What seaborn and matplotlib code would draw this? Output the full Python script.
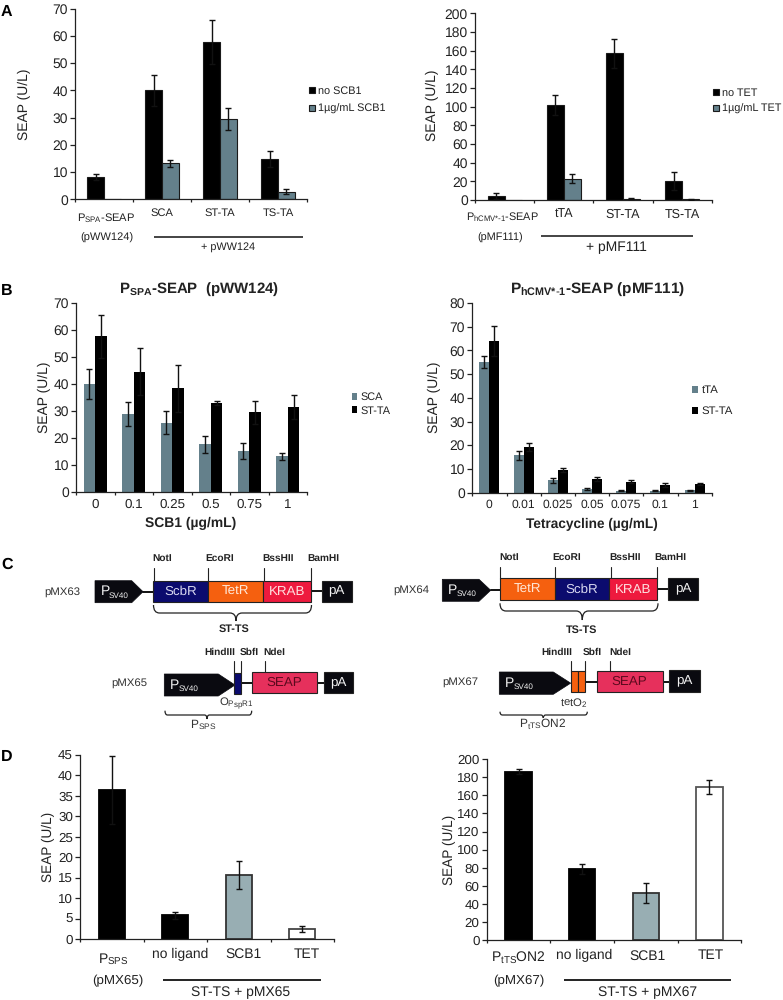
#!/usr/bin/env python
"""SEAP expression panels (A, B, D) and construct maps (C)."""
import numpy as np
import pandas as pd
import matplotlib
matplotlib.use("Agg")
import matplotlib.pyplot as plt
from matplotlib.patches import PathPatch, Polygon, Rectangle
from matplotlib.path import Path
from matplotlib.transforms import ScaledTranslation
import seaborn as sns

# Panel A, left
a1_groups = ["PSPA", "SCA", "ST-TA", "TS-TA"]
a1_no_scb1 = [8.2, 40, 57.7, 14.8]
a1_no_scb1_err = [1.1, 5.7, 8.0, 3.0]
a1_scb1 = [0, 13.2, 29.5, 2.7]
a1_scb1_err = [0, 1.2, 4.2, 0.9]

# Panel A, right
a2_groups = ["PhCMV", "tTA", "ST-TA", "TS-TA"]
a2_no_tet = [4, 102, 157, 20.5]
a2_no_tet_err = [3, 11, 16, 9.5]
a2_tet = [0, 23, 1.5, 1]
a2_tet_err = [0, 4.5, 0.5, 0.5]

# Panel B, left
b1_doses = ["0", "0.1", "0.25", "0.5", "0.75", "1"]
b1_sca = [40, 29, 25.7, 17.7, 15.2, 13.2]
b1_sca_err = [5.7, 4.4, 4.2, 3.1, 2.9, 1.2]
b1_st = [57.7, 44.6, 38.4, 33, 29.5, 31.5]
b1_st_err = [8, 8.8, 8.8, 0.6, 4.2, 4.5]

# Panel B, right
b2_doses = ["0", "0.01", "0.025", "0.05", "0.075", "0.1", "1"]
b2_tta = [55, 15.7, 5.3, 1.5, 0.9, 0.8, 1]
b2_tta_err = [2.5, 1.8, 1.1, 0.4, 0.3, 0.2, 0.3]
b2_st = [64, 19.2, 9.5, 5.8, 4.7, 3.2, 3.6]
b2_st_err = [6.5, 1.8, 0.8, 0.8, 0.8, 0.8, 0.3]

# Panel D
d_conditions = ["promoter", "no ligand", "SCB1", "TET"]
d1_values = [36.5, 5.8, 15.6, 2.4]
d1_err = [8.3, 0.9, 3.4, 0.7]
d2_values = [186, 79, 52, 169]
d2_err = [3, 5.5, 11, 7.5]

BLACK = "#000000"
SLATE = "#64808b"
PALE = "#98aeb3"
NAVY = "#0b0b6e"
ORANGE = "#f5600f"
CRIMSON = "#ee1a3e"
ROSE = "#e6305c"
INK = "#0a0a10"
TEXT = "#222222"

sns.set_theme(style="ticks")
plt.rcParams["font.family"] = ["Liberation Sans", "DejaVu Sans"]
plt.rcParams["mathtext.default"] = "regular"
plt.rcParams["text.hinting"] = "none"
plt.rcParams["text.color"] = TEXT
plt.rcParams["axes.labelcolor"] = TEXT
plt.rcParams["xtick.color"] = TEXT
plt.rcParams["ytick.color"] = TEXT
plt.rcParams["axes.edgecolor"] = "#222222"

W, H = 783, 1000
fig = plt.figure(figsize=(W / 100, H / 100), dpi=100)

# overlay in pixel coordinates for annotations and the construct maps
over = fig.add_axes([0, 0, 1, 1], zorder=5)
over.set_xlim(0, W)
over.set_ylim(H, 0)
over.axis("off")


def make_axes(left, right, y0, ytop, ymax, yticks, ysize=10):
    ax = fig.add_axes([left / W, 1 - y0 / H, (right - left) / W, (y0 - ytop) / H])
    ax.set_ylim(0, ymax)
    ax.set_yticks(yticks)
    ax.tick_params(axis="y", length=3.6, width=0.9, pad=1.5, labelsize=ysize)
    sns.despine(ax=ax)
    for side in ("left", "bottom"):
        ax.spines[side].set_linewidth(0.9)
    return ax


def finish_x(ax, n, labels, size, pad, shift=0):
    ax.set_xlim(-0.5, n - 0.5)
    ax.set_xticks(np.arange(n + 1) - 0.5)
    ax.set_xticklabels([])
    ax.tick_params(axis="x", which="major", length=2.4, width=0.9)
    ax.set_xticks(np.arange(n), labels, minor=True)
    ax.tick_params(axis="x", which="minor", length=0, pad=pad, labelsize=size)
    ax.set_xlabel("")
    if shift:
        # labels sit a little right of the bar centres in the original
        offset = ScaledTranslation(shift / 100, 0, fig.dpi_scale_trans)
        for lbl in ax.get_xticklabels(minor=True):
            lbl.set_transform(lbl.get_transform() + offset)


def add_errors(ax, container, err):
    xs = [b.get_x() + b.get_width() / 2 for b in container]
    ys = [b.get_height() for b in container]
    xs, ys, err = zip(*[(x, y, e) for x, y, e in zip(xs, ys, err) if e > 0])
    ax.errorbar(xs, ys, yerr=err, fmt="none", ecolor="#111111",
                elinewidth=1.0, capsize=1.9, capthick=1.0, zorder=4)


def grouped(ax, groups, names, values, errs, colors, width, edge, anchor, size, spacing):
    df = pd.DataFrame({
        "group": list(groups) * 2,
        "seap": list(values[0]) + list(values[1]),
        "series": [names[0]] * len(groups) + [names[1]] * len(groups),
    })
    sns.barplot(data=df, x="group", y="seap", hue="series", palette=colors,
                width=width, gap=0, errorbar=None, edgecolor=edge, linewidth=0.8,
                saturation=1, ax=ax)
    for container, err in zip(ax.containers, errs):
        add_errors(ax, container, err)
    ax.set_ylabel("")
    sns.move_legend(ax, "center left", bbox_to_anchor=(anchor[0] / W, 1 - anchor[1] / H),
                    bbox_transform=fig.transFigure, frameon=False, title=None,
                    fontsize=size, handlelength=0.55, handleheight=0.55,
                    handletextpad=0.3, labelspacing=spacing, borderpad=0, borderaxespad=0)


def single(ax, values, errs, colors, edges):
    df = pd.DataFrame({"cond": d_conditions, "seap": values})
    sns.barplot(data=df, x="cond", y="seap", hue="cond", palette=colors, legend=False,
                width=0.41, errorbar=None, saturation=1, ax=ax)
    for container, edge in zip(ax.containers, edges):
        for bar in container:
            bar.set_edgecolor(edge)
            bar.set_linewidth(1.3)
    for container, err in zip(ax.containers, errs):
        add_errors(ax, container, [err])
    ax.set_ylabel("")


def note(x, y, s, size=8, weight="normal", color=TEXT, rotation=0, ha="center"):
    over.text(x, y, s, fontsize=size, fontweight=weight, color=color, rotation=rotation,
              ha=ha, va="center")


def rule(x0, x1, y, lw=1.1, color="#111111"):
    over.plot([x0, x1], [y, y], color=color, lw=lw, solid_capstyle="butt")


# Panel A
ax = make_axes(75, 307, 199.3, 8.7, 70, range(0, 71, 10))
grouped(ax, a1_groups, ["no SCB1", "1µg/mL SCB1"], [a1_no_scb1, a1_scb1],
        [a1_no_scb1_err, a1_scb1_err], [BLACK, SLATE], 0.586, "#1a1a1a", (309, 100), 7.8, 0.75)
finish_x(ax, 4, ["", "SCA", "ST-TA", "TS-TA"], 8, 6.5)
note(24, 104, "SEAP (U/L)", 10, rotation=90)
note(106.5, 218, r"P$_{SPA}$-SEAP", 8)
note(106.5, 238, "(pWW124)", 8)
rule(154, 303, 236.7)
note(228, 247, "+ pWW124", 7.8)

ax = make_axes(475, 711.7, 200, 13.3, 200, range(0, 201, 20))
grouped(ax, a2_groups, ["no TET", "1µg/mL TET"], [a2_no_tet, a2_tet],
        [a2_no_tet_err, a2_tet_err], [BLACK, SLATE], 0.574, "#1a1a1a", (713, 101), 7.8, 0.55)
finish_x(ax, 4, ["", "tTA", "ST-TA", "TS-TA"], 9, 6)
note(432, 105, "SEAP (U/L)", 10, rotation=90)
note(502, 217, r"P$_{hCMV{*}\text{-}1}$-SEAP", 7.8)
note(500, 238, "(pMF111)", 7.8)
rule(541, 693, 236)
note(616, 247, "+ pMF111", 10)

# Panel B
ax = make_axes(76, 307, 492, 303, 70, range(0, 71, 10))
grouped(ax, b1_doses, ["SCA", "ST-TA"], [b1_sca, b1_st], [b1_sca_err, b1_st_err],
        [SLATE, BLACK], 0.6, "none", (351.5, 404), 7.8, 0.3)
finish_x(ax, 6, b1_doses, 9.6, 5)
note(191, 523, "SCB1 (µg/mL)", 10, "bold")
note(44, 397, "SEAP (U/L)", 10, rotation=90)
note(199.5, 289, r"P$_{SPA}$-SEAP  (pWW124)", 10.8, "bold")

ax = make_axes(472.3, 711.7, 492.7, 303, 80, range(0, 81, 10))
grouped(ax, b2_doses, ["tTA", "ST-TA"], [b2_tta, b2_st], [b2_tta_err, b2_st_err],
        [SLATE, BLACK], 0.585, "none", (692, 401), 8.2, 0.95)
finish_x(ax, 7, b2_doses, 8.7, 5)
note(592, 524, "Tetracycline (µg/mL)", 9.8, "bold")
note(434, 397, "SEAP (U/L)", 10, rotation=90)
note(598, 289, r"P$_{hCMV{*}\text{-}1}$-SEAP (pMF111)", 11.1, "bold")

# Panel D
ax = make_axes(80, 334, 939, 755, 45, range(0, 46, 5), 9.6)
single(ax, d1_values, d1_err, [BLACK, BLACK, PALE, "#ffffff"], [BLACK, BLACK, "#333333", "#444444"])
finish_x(ax, 4, ["", "no ligand", "SCB1", "TET"], 10, 6.5, shift=5)
note(48.5, 847, "SEAP (U/L)", 9.8, rotation=90)
note(113, 959, r"P$_{SPS}$", 10)
note(118, 980.5, "(pMX65)", 9.6)
rule(162.5, 320.5, 979.5, 1.3)
note(241, 992, "ST-TS + pMX65", 10)

ax = make_axes(486.7, 741.3, 940.3, 759, 200, range(0, 201, 20), 9.6)
single(ax, d2_values, d2_err, [BLACK, BLACK, PALE, "#ffffff"], [BLACK, BLACK, "#333333", "#555555"])
finish_x(ax, 4, ["", "no ligand", "SCB1", "TET"], 10, 6.5, shift=1.5)
note(449.5, 850, "SEAP (U/L)", 9.8, rotation=90)
note(518.5, 958, r"P$_{tTS}$ON2", 10)
note(518.5, 980.5, "(pMX67)", 9.6)
rule(564, 731, 979.5, 1.3)
note(648, 992, "ST-TS + pMX67", 10)

# Panel letters
for letter, y in zip("ABCD", [12, 291, 565, 757]):
    note(1, y, letter, 11.5, "bold", "#000000", ha="left")


# Panel C, construct maps
def box(x0, x1, y0, y1, color, label=None, text_color="#f4f4f4", size=9.6, edge="#222222"):
    over.add_patch(Rectangle((x0, y0), x1 - x0, y1 - y0, facecolor=color, edgecolor=edge, lw=0.8, zorder=3))
    if label:
        over.text((x0 + x1) / 2, (y0 + y1) / 2, label, color=text_color, fontsize=size,
                  ha="center", va="center", zorder=4)


def promoter(x0, xflat, xtip, y0, y1):
    ym = (y0 + y1) / 2
    over.add_patch(Polygon([(x0, y0), (xflat, y0), (xtip, ym), (xflat, y1), (x0, y1)],
                           closed=True, facecolor=INK, edgecolor=INK, lw=0.5, zorder=3))
    over.text(x0 + 6, ym, "P", color="#f0f0f0", fontsize=10, ha="left", va="center", zorder=4)
    over.text(x0 + 14, ym + 4, "SV40", color="#f0f0f0", fontsize=5.9, ha="left", va="center", zorder=4)


def site(x, y0, y1):
    over.plot([x, x], [y0, y1], color="#222222", lw=0.8, zorder=2)


def backbone(x0, x1, y):
    over.plot([x0, x1], [y, y], color="#111111", lw=1.4, zorder=2)


def brace(x0, x1, tip, y0, y1, y2, r=6):
    verts = [(x0, y0), (x0, y1), (x0 + r, y1), (tip - r, y1), (tip, y1), (tip, y2),
             (tip, y1), (tip + r, y1), (x1 - r, y1), (x1, y1), (x1, y0)]
    codes = [Path.MOVETO, Path.CURVE3, Path.CURVE3, Path.LINETO, Path.CURVE3, Path.CURVE3,
             Path.CURVE3, Path.CURVE3, Path.LINETO, Path.CURVE3, Path.CURVE3]
    over.add_patch(PathPatch(Path(verts, codes), facecolor="none", edgecolor="#222222", lw=0.9))


# pMX63
note(62, 592, "pMX63", 8.2, color="#333333")
promoter(95, 131.7, 143, 580.7, 602.7)
backbone(143, 154, 592)
box(153.3, 208.3, 580.7, 602, NAVY, "ScbR", "#d8d8f0")
box(208.3, 262.7, 580.7, 602, ORANGE, "TetR", "#ffe8d8")
box(262.7, 310.7, 580.7, 602, CRIMSON, "KRAB", "#ffe0e0")
backbone(310.7, 322, 591)
box(321.7, 351.7, 580.7, 602, INK, "pA")
for x, x_text, name in zip([153.7, 208, 264, 310.7], [162, 220, 278, 323], ["NotI", "EcoRI", "BssHII", "BamHI"]):
    site(x, 568, 581)
    note(x_text, 558.7, name, 7.3, "bold")
brace(153.5, 311.5, 236, 605, 613, 621)
note(234, 628.7, "ST-TS", 7.8, "bold")

# pMX64
note(411, 589.5, "pMX64", 8.2, color="#333333")
promoter(442.3, 479, 490.7, 579.3, 601.3)
backbone(490.7, 500.5, 590)
box(500, 555, 578.3, 600, ORANGE, "TetR", "#ffe8d8")
box(555, 609.3, 578.3, 600, NAVY, "ScbR", "#d8d8f0")
box(609.3, 657.3, 578.3, 600, CRIMSON, "KRAB", "#ffe0e0")
backbone(657.3, 668.5, 589)
box(668.3, 698.3, 578, 600, INK, "pA")
for x, x_text, name in zip([500.3, 555, 611, 657.3], [509, 567, 625, 670.3], ["NotI", "EcoRI", "BssHII", "BamHI"]):
    site(x, 566.7, 578.5)
    note(x_text, 557, name, 7.3, "bold")
brace(500, 658, 582.3, 603.3, 611, 620)
note(582, 630.3, "TS-TS", 7.8, "bold")

# pMX65
note(129, 682.7, "pMX65", 8.2, color="#333333")
promoter(164.3, 218.3, 235, 674, 696)
box(234, 241.3, 672.7, 694.3, NAVY)
backbone(241.3, 252, 683.3)
box(251.7, 316.7, 672.3, 693.3, ROSE, "SEAP", "#5c0a1e")
backbone(316.7, 324.5, 683)
box(324, 353.3, 672, 693.3, INK, "pA")
site(234, 660.7, 673)
site(240.7, 660.7, 673)
site(265, 660.7, 672.5)
for x_text, name in zip([219.3, 249.3, 274.3], ["HindIII", "SbfI", "NdeI"]):
    note(x_text, 652.7, name, 7.3, "bold")
note(236, 703, r"O$_{PspR1}$", 8.2, color="#333333")
brace(165, 251.7, 207, 710.7, 715, 719, r=2.5)
note(203, 725, r"P$_{SPS}$", 8.6, color="#333333")

# pMX67
note(460, 681.7, "pMX67", 8.2, color="#333333")
promoter(499.3, 553.3, 570.7, 672, 694.3)
box(570.7, 577.7, 671.3, 692.3, ORANGE)
box(577.7, 585, 671.3, 692.3, ORANGE)
backbone(585, 597, 681.7)
box(596.7, 662.7, 670.7, 692, ROSE, "SEAP", "#5c0a1e")
backbone(662.7, 669.5, 682)
box(669.3, 700, 670.3, 692.3, INK, "pA")
site(570.7, 660.7, 672)
site(585, 660.7, 672)
site(609.7, 660.7, 671)
for x_text, name in zip([556.7, 592, 620], ["HindIII", "SbfI", "NdeI"]):
    note(x_text, 652.7, name, 7.3, "bold")
note(573.7, 703.3, r"tetO$_{2}$", 8.2, color="#333333")
brace(500, 587.3, 543.3, 711.7, 715, 718, r=2.5)
note(542.3, 724, r"P$_{tTS}$ON2", 8.6, color="#333333")

fig.savefig("out.png", dpi=100)
